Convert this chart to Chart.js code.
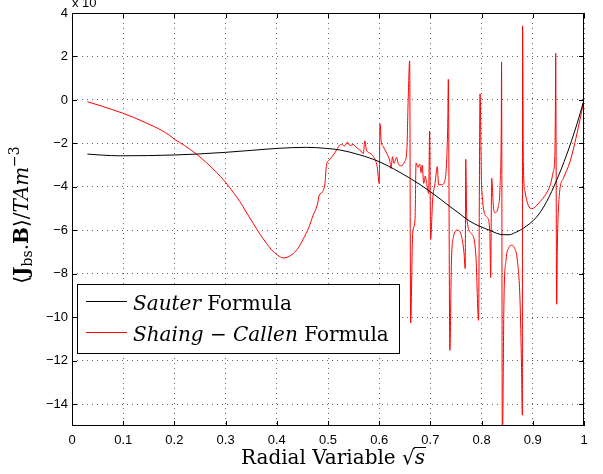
<!DOCTYPE html>
<html lang="en">
<head>
<meta charset="UTF-8">
<title>Bootstrap current</title>
<style>
  body { margin: 0; background: #fff; }
  #wrap { width: 603px; height: 474px; position: relative; }
</style>
</head>
<body>
<div id="wrap"><canvas id="chart"></canvas></div>
<script src="https://cdn.jsdelivr.net/npm/chart.js"></script>
<script>
// tick positions
const xTicks = [0, 0.1, 0.2, 0.3, 0.4, 0.5, 0.6, 0.7, 0.8, 0.9, 1];
const yTicks = [-14, -12, -10, -8, -6, -4, -2, 0, 2, 4];

// Sauter formula (units of 1e4)
const sauterX = [0.03, 0.06, 0.094, 0.15, 0.201, 0.2435, 0.3, 0.35, 0.4, 0.458, 0.497, 0.523,
  0.5625, 0.6, 0.66, 0.7, 0.738, 0.758, 0.777, 0.816, 0.842, 0.855, 0.862, 0.881, 0.9076,
  0.927, 0.9466, 0.966, 0.9857, 1.0];
const sauterY = [-2.49, -2.54, -2.57, -2.56, -2.53, -2.49, -2.41, -2.32, -2.23, -2.18, -2.23, -2.3,
  -2.53, -2.84, -3.6, -4.22, -4.9, -5.25, -5.58, -6.0, -6.2, -6.2, -6.14, -5.91, -5.38,
  -4.68, -3.69, -2.53, -1.15, 0];

// Shaing-Callen formula
const shaingX = [0.03, 0.06, 0.099, 0.12, 0.1458, 0.16, 0.175, 0.19, 0.201, 0.22, 0.2435, 0.26,
  0.276, 0.29, 0.3, 0.315, 0.328, 0.34, 0.354, 0.367, 0.38, 0.39, 0.4, 0.405, 0.414, 0.422,
  0.432, 0.442, 0.452, 0.462, 0.471, 0.479, 0.483, 0.4896, 0.494, 0.497, 0.5026, 0.5104,
  0.517, 0.522, 0.527, 0.532, 0.538, 0.543, 0.549, 0.556, 0.562, 0.569,
  0.572, 0.575, 0.582, 0.589, 0.596, 0.6, 0.6016, 0.604, 0.608, 0.615, 0.621, 0.623, 0.626,
  0.629, 0.634, 0.637, 0.643, 0.6497, 0.654, 0.6566, 0.6595, 0.6614, 0.6654, 0.67, 0.672,
  0.676, 0.679, 0.682, 0.684, 0.687, 0.69, 0.693, 0.6966, 0.6985, 0.7005, 0.7044, 0.709,
  0.7135, 0.716, 0.722, 0.7285, 0.7318, 0.734, 0.735, 0.738, 0.741, 0.745, 0.7526, 0.76,
  0.7655, 0.768, 0.769, 0.771, 0.78, 0.789, 0.794, 0.797, 0.8, 0.81, 0.816, 0.8177, 0.8197,
  0.823, 0.826, 0.8327, 0.836, 0.8385, 0.839, 0.8405, 0.8437, 0.8477, 0.853, 0.8588, 0.864,
  0.8698, 0.875, 0.878, 0.8796, 0.88, 0.8815, 0.8848, 0.891, 0.898, 0.914, 0.925, 0.934,
  0.94, 0.943, 0.944, 0.9447, 0.9466, 0.948, 0.9518, 0.9596, 0.9727, 0.9857, 0.9987];
const shaingY = [-0.08, -0.3, -0.61, -0.8, -1.07, -1.22, -1.4, -1.62, -1.82, -2.1, -2.5, -2.83,
  -3.18, -3.52, -3.79, -4.25, -4.68, -5.15, -5.68, -6.17, -6.6, -6.9, -7.11, -7.2, -7.27, -7.22,
  -7.07, -6.8, -6.38, -5.9, -5.3, -4.84, -4.38, -4.22, -3.84, -3.0, -2.76, -2.53,
  -2.3, -2.1, -2.05, -2.12, -1.94, -2.1, -2.05, -2.2, -2.3, -2.46,
  -1.88, -2.3, -2.45, -2.61, -3.07, -3.84, -1.1, -1.9, -2.15, -2.46, -2.84, -3.15, -2.61,
  -2.92, -2.64, -2.92, -3.03, -2.84, -2.3, 0, 1.8, -10.26, -6.14, -5.5, -2.9,
  -3.1, -2.95, -3.35, -3.0, -3.84, -3.5, -3.9, -4.3, -1.43, -6.42, -4.6, -3.84,
  -3.07, -3.9, -3.9, -3.7, -2.76, -0.92, 0.95, -11.52, -7.5, -6.3, -5.99, -6.2,
  -7.0, -7.76, -2.73, -5.38, -6.14, -7.22, -10.14, 0.28, -4.0, -5.38, -6.0, -8.17, -3.6,
  -4.9, -5.19, -4.9, -4.0, -0.92, 1.75, -16, -9.2, -7.37, -6.8, -6.68, -6.8,
  -7.37, -9.2, -12.3, -14.5, 3.41, -2.84, -4.22, -4.84, -5.0, -4.68, -4.35, -3.92,
  -3.3, -2.6, -0.8, 2.15, -9.4, -6.68, -4.38, -3.61, -2.84, -1.61, -0.15];

const serif = '"DejaVu Serif", serif';
const sans = '"Liberation Sans", Arial, sans-serif';

// draw a run of text pieces with their own fonts, returns the width
function drawParts(ctx, parts, x, y, measureOnly) {
  let w = 0;
  parts.forEach(p => {
    ctx.font = p.f;
    if (!measureOnly) ctx.fillText(p.t, x + w, y + (p.dy || 0));
    w += ctx.measureText(p.t).width;
  });
  return w;
}

const decorations = {
  id: 'decorations',
  afterDraw(chart) {
    const { ctx, chartArea: a, scales: { x, y } } = chart;
    ctx.save();
    ctx.strokeStyle = '#000';
    ctx.fillStyle = '#000';
    ctx.lineWidth = 1;

    // inward tick marks on all four sides
    ctx.beginPath();
    yTicks.forEach(v => {
      const py = Math.round(y.getPixelForValue(v)) + 0.5;
      ctx.moveTo(a.left, py); ctx.lineTo(a.left + 5, py);
      ctx.moveTo(a.right, py); ctx.lineTo(a.right - 5, py);
    });
    xTicks.forEach(v => {
      const px = Math.round(x.getPixelForValue(v)) + 0.5;
      ctx.moveTo(px, a.bottom); ctx.lineTo(px, a.bottom - 5);
      ctx.moveTo(px, a.top); ctx.lineTo(px, a.top + 5);
    });
    ctx.stroke();
    ctx.strokeRect(a.left + 0.5, a.top + 0.5, a.right - a.left - 1, a.bottom - a.top - 1);

    // exponent label, mostly cut off at the top
    ctx.font = '13px ' + sans;
    ctx.textBaseline = 'alphabetic';
    ctx.fillText('x 10', a.left, 7);

    // legend
    const lx = a.left + 5, ly = a.top + 271, lw = 322, lh = 69;
    ctx.fillStyle = '#fff';
    ctx.fillRect(lx, ly, lw, lh);
    ctx.strokeRect(lx + 0.5, ly + 0.5, lw, lh);
    const rows = [
      { color: '#000', y: 17.5, parts: [
        { t: 'Sauter', f: 'italic 20px ' + serif },
        { t: ' Formula', f: '20px ' + serif }] },
      { color: '#ff0000', y: 48.5, parts: [
        { t: 'Shaing', f: 'italic 20px ' + serif },
        { t: ' \u2212 ', f: '20px ' + serif },
        { t: 'Callen', f: 'italic 20px ' + serif },
        { t: ' Formula', f: '20px ' + serif }] }
    ];
    rows.forEach(r => {
      ctx.strokeStyle = r.color;
      ctx.beginPath();
      ctx.moveTo(lx + 9, ly + r.y); ctx.lineTo(lx + 50, ly + r.y);
      ctx.stroke();
      ctx.fillStyle = '#000';
      drawParts(ctx, r.parts, lx + 56, ly + r.y + 8.5);
    });

    // x axis title
    const xt = [
      { t: 'Radial Variable ', f: '20px ' + serif },
      { t: '\u221A', f: '20px ' + serif },
      { t: 's', f: 'italic 20px ' + serif }
    ];
    const xw = drawParts(ctx, xt, 0, 0, true);
    const x0 = (a.left + a.right) / 2 + 5 - xw / 2;
    drawParts(ctx, xt, x0, 464);
    ctx.font = 'italic 20px ' + serif;
    const sw = ctx.measureText('s').width;
    ctx.strokeStyle = '#000';
    ctx.beginPath();
    ctx.moveTo(x0 + xw - sw - 1, 447.5); ctx.lineTo(x0 + xw + 1, 447.5);
    ctx.stroke();

    // y axis title
    const yt = [
      { t: '\u27E8', f: '20px ' + serif },
      { t: 'J', f: 'bold 20px ' + serif },
      { t: 'bs', f: '14px ' + serif, dy: 4 },
      { t: '.', f: '20px ' + serif },
      { t: 'B', f: 'bold 20px ' + serif },
      { t: '\u27E9', f: '20px ' + serif },
      { t: '/', f: '20px ' + serif },
      { t: 'TAm', f: 'italic 20px ' + serif },
      { t: '\u22123', f: '14px ' + serif, dy: -9 }
    ];
    ctx.translate(28, 215);
    ctx.rotate(-Math.PI / 2);
    const yw = drawParts(ctx, yt, 0, 0, true);
    drawParts(ctx, yt, -yw / 2, 0);
    ctx.restore();
  }
};

new Chart(document.getElementById('chart'), {
  type: 'line',
  data: {
    datasets: [
      {
        label: 'Sauter Formula',
        data: sauterX.map((v, i) => ({ x: v, y: sauterY[i] })),
        borderColor: '#000',
        borderWidth: 1,
        pointRadius: 0,
        cubicInterpolationMode: 'monotone'
      },
      {
        label: 'Shaing \u2212 Callen Formula',
        data: shaingX.map((v, i) => ({ x: v, y: shaingY[i] })),
        borderColor: '#ff0000',
        borderWidth: 1,
        pointRadius: 0,
        cubicInterpolationMode: 'monotone'
      }
    ]
  },
  options: {
    responsive: true,
    maintainAspectRatio: false,
    animation: false,
    layout: { padding: { left: 0, top: 13, right: 19, bottom: 0 } },
    plugins: { legend: { display: false }, tooltip: { enabled: false } },
    scales: {
      x: {
        type: 'linear',
        min: 0,
        max: 1,
        afterBuildTicks: s => { s.ticks = xTicks.map(v => ({ value: v })); },
        afterFit: s => { s.height = 48; },
        grid: { color: 'rgba(0,0,0,0.6)', drawTicks: false },
        border: { display: false, dash: [1, 4] },
        ticks: { color: '#000', padding: 7, maxRotation: 0, font: { family: sans, size: 13 },
          callback: v => String(v) }
      },
      y: {
        min: -15,
        max: 4,
        afterBuildTicks: s => { s.ticks = yTicks.map(v => ({ value: v })); },
        afterFit: s => { s.width = 72; },
        grid: { color: 'rgba(0,0,0,0.6)', drawTicks: false },
        border: { display: false, dash: [1, 4] },
        ticks: { color: '#000', padding: 4, font: { family: sans, size: 13 },
          callback: v => String(v).replace('-', '\u2212') }
      }
    }
  },
  plugins: [decorations]
});
</script>
</body>
</html>
